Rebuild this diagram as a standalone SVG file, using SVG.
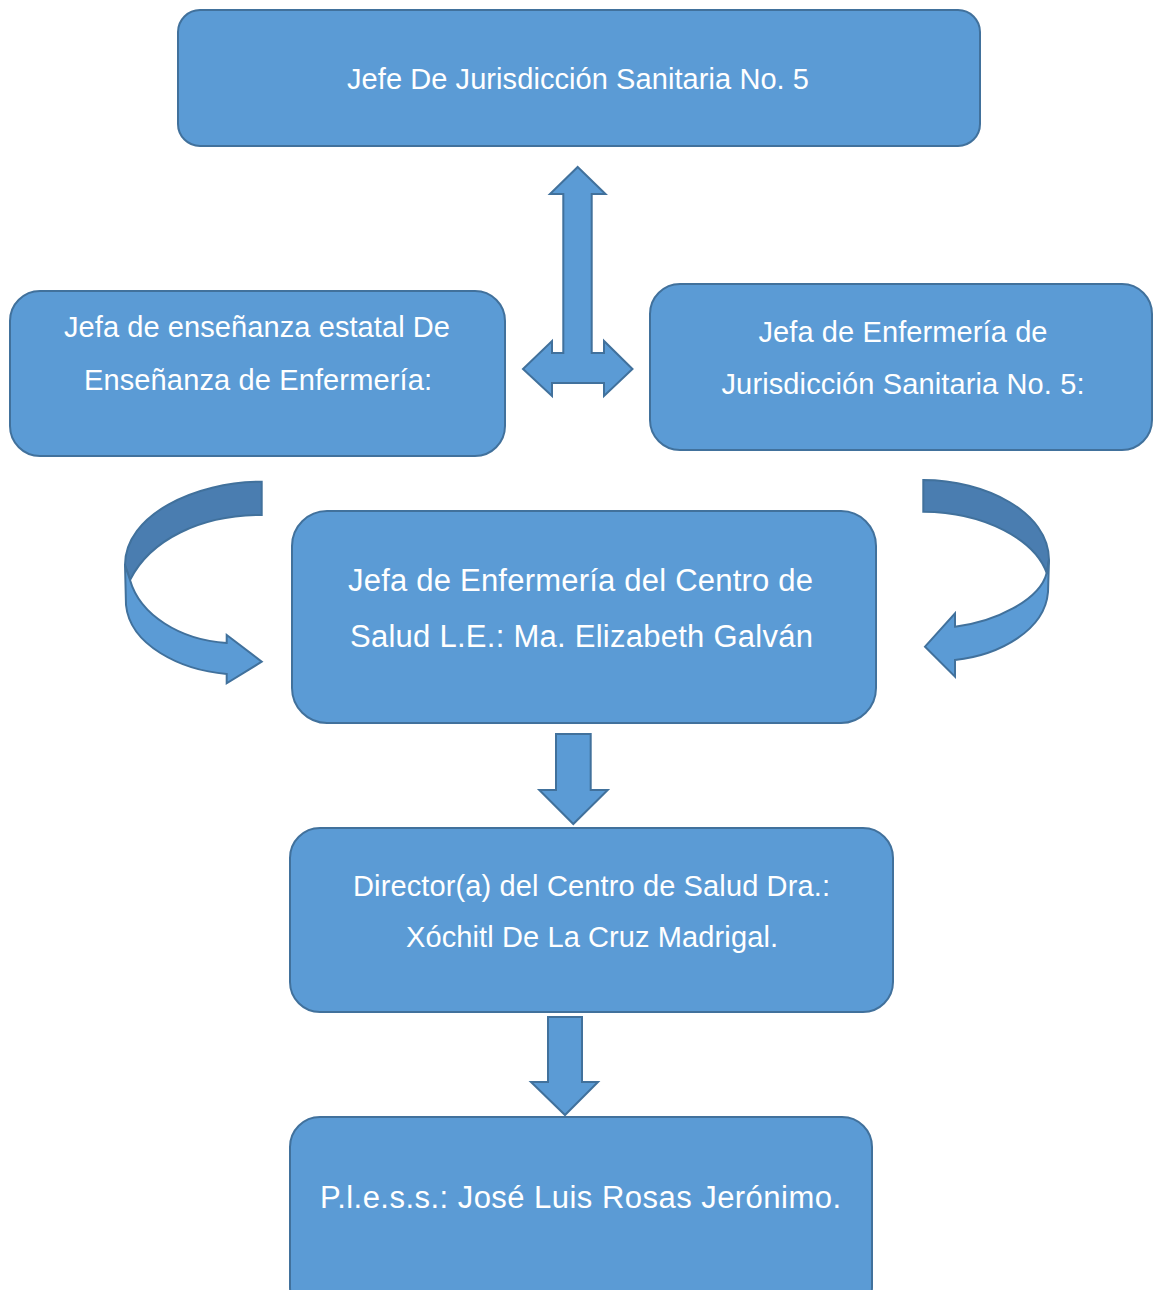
<svg xmlns="http://www.w3.org/2000/svg" width="1153" height="1290" viewBox="0 0 1153 1290">
<style>
.box{fill:#5B9BD5;stroke:#41719C;stroke-width:2}
.arr{fill:#5B9BD5;stroke:#41719C;stroke-width:2;stroke-linejoin:miter}
.dark{fill:#4A7DB0;stroke:#41719C;stroke-width:2}
text{font-family:"Liberation Sans",Arial,sans-serif;fill:#FFFFFF;text-anchor:middle;font-size:29px}
.big{font-size:31px}
</style>
<rect width="1153" height="1290" fill="#FFFFFF"/>
<g id="connectors">
<path class="arr" d="M577.7,167 L605.5,194 L591.7,194 L591.7,353 L604,353 L604,341 L632.5,369 L604,396 L604,383 L552,383 L552,396 L523,369 L552,341 L552,353 L563.3,353 L563.3,194 L550,194 Z"/>
<path class="dark" d="M261.7,481.7 C195,481.7 125,515 125,565 L130,580 C150,540 200,515 261.7,515 Z"/>
<path class="arr" d="M125,565 L126,605 C130,645 180,670 226.7,674 L226.7,683.3 L261.7,661.7 L226.7,635 L226.7,643 C180,640 140,615 130,580 Z"/>
<path class="dark" d="M923.3,480 C985,480 1049,512 1049,560 L1046.7,573 C1035,540 985,512 923.3,511.7 Z"/>
<path class="arr" d="M1049,560 L1048,592 C1045,630 1000,655 955,660 L955,676.7 L925,646.7 L955,613.3 L955,626.7 C995,622 1040,600 1046.7,573 Z"/>
<path class="arr" d="M556,734 L590.7,734 L590.7,790 L607.7,790 L573.3,824 L539.3,790 L556,790 Z"/>
<path class="arr" d="M548,1017 L582,1017 L582,1082 L598,1082 L565,1115 L531,1082 L548,1082 Z"/>
</g>
<g id="n1">
<rect class="box" x="178" y="10" width="802" height="136" rx="22"/>
<text x="578" y="89" textLength="462">Jefe De Jurisdicción Sanitaria No. 5</text>
</g>
<g id="n2">
<rect class="box" x="10" y="291" width="495" height="165" rx="30"/>
<text x="257" y="337" textLength="386">Jefa de enseñanza estatal De</text>
<text x="258" y="390" textLength="348">Enseñanza de Enfermería:</text>
</g>
<g id="n3">
<rect class="box" x="650" y="284" width="502" height="166" rx="30"/>
<text x="903" y="342" textLength="289">Jefa de Enfermería de</text>
<text x="903" y="394" textLength="363">Jurisdicción Sanitaria No. 5:</text>
</g>
<g id="n4">
<rect class="box" x="292" y="511" width="584" height="212" rx="35"/>
<text class="big" x="580.5" y="591" textLength="465">Jefa de Enfermería del Centro de</text>
<text class="big" x="581.5" y="647" textLength="463">Salud L.E.: Ma. Elizabeth Galván</text>
</g>
<g id="n5">
<rect class="box" x="290" y="828" width="603" height="184" rx="30"/>
<text x="591.5" y="896" textLength="477">Director(a) del Centro de Salud Dra.:</text>
<text x="592" y="947" textLength="372">Xóchitl De La Cruz Madrigal.</text>
</g>
<g id="n6">
<rect class="box" x="290" y="1117" width="582" height="200" rx="30"/>
<text class="big" x="580.5" y="1208" textLength="521">P.l.e.s.s.: José Luis Rosas Jerónimo.</text>
</g>
</svg>
